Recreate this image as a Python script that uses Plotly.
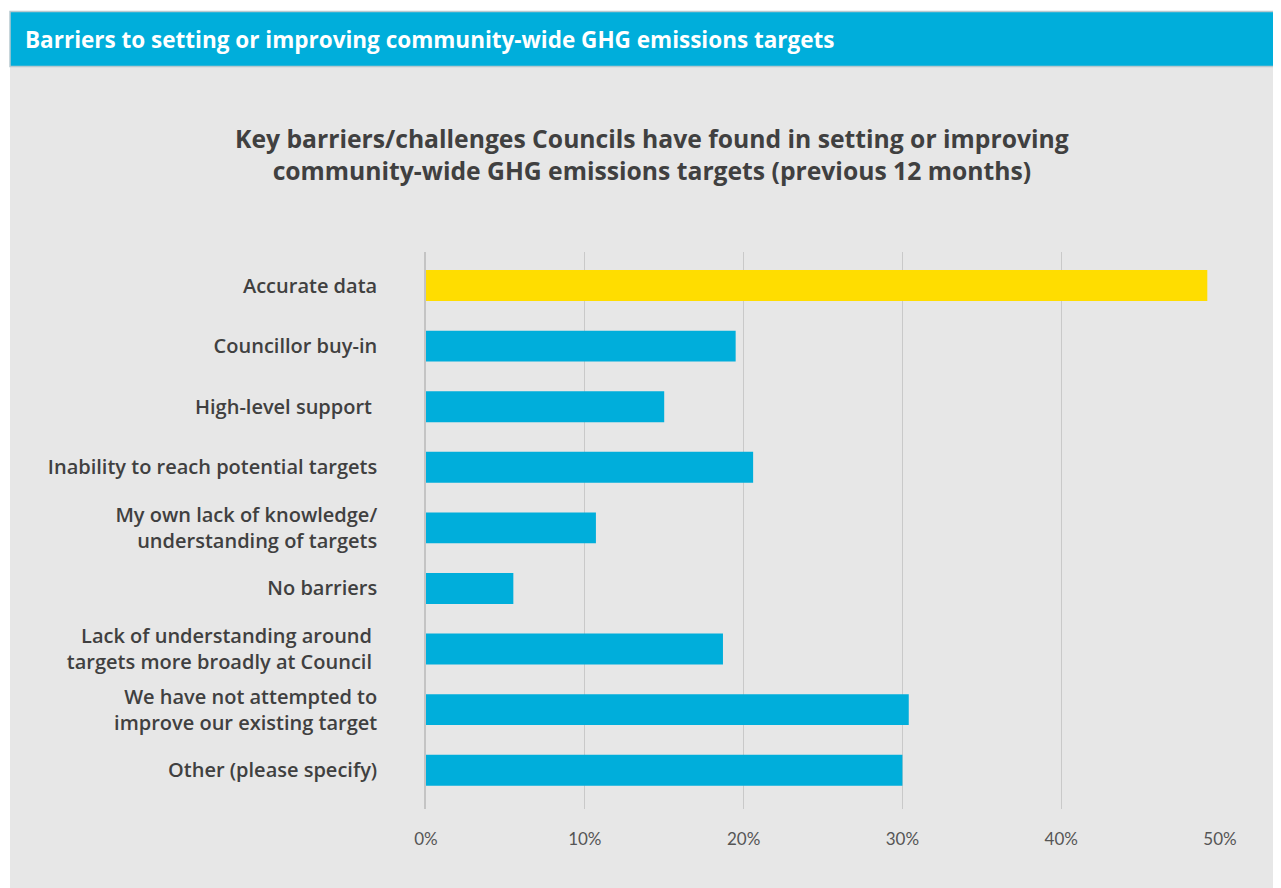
import plotly.graph_objects as go

categories = [
    "Accurate data",
    "Councillor buy-in",
    "High-level support ",
    "Inability to reach potential targets",
    "My own lack of knowledge/<br>understanding of targets",
    "No barriers",
    "Lack of understanding around <br>targets more broadly at Council ",
    "We have not attempted to<br>improve our existing target",
    "Other (please specify)",
]
values = [0.492, 0.195, 0.150, 0.206, 0.107, 0.055, 0.187, 0.304, 0.300]
colors = ["#FFDD00"] + ["#00AEDB"] * 8
tick_vals = [0, 0.1, 0.2, 0.3, 0.4, 0.5]
tick_text = ["0%", "10%", "20%", "30%", "40%", "50%"]

header_text = "Barriers to setting or improving community-wide GHG emissions targets"
chart_title = ("Key barriers/challenges Councils have found in setting or improving<br>"
               "community-wide GHG emissions targets (previous 12 months)")

O = 8  # page body margin offset
W, H = 1281, 888
# plot area in page pixels: x 426..1220, y 252..809
L = 426 - O
T = 252 - O
PW = 1220 - 426
PH = 809 - 252
R = W - L - PW
B = H - T - PH


def px(x):
    return (x - O - L) / PW


def py(y):
    return (T + PH - (y - O)) / PH


fig = go.Figure(go.Bar(
    y=categories,
    x=values,
    orientation="h",
    marker=dict(color=colors, line=dict(width=0)),
    width=0.51,
    hoverinfo="skip",
))

fig.update_layout(
    width=W,
    height=H,
    margin=dict(l=L, r=R, t=T, b=B, pad=0),
    paper_bgcolor="#E7E7E7",
    plot_bgcolor="#E7E7E7",
    showlegend=False,
    font=dict(family="Open Sans", color="#404040"),
    xaxis=dict(
        range=[0, 0.5],
        tickvals=tick_vals,
        ticktext=tick_text,
        showgrid=True,
        gridcolor="#C9C9C9",
        gridwidth=1.3,
        zeroline=False,
        showline=False,
        ticks="",
        tickfont=dict(family="Lato", size=17, color="#555555", weight=400),
        ticklabelstandoff=18,
        fixedrange=True,
    ),
    yaxis=dict(
        categoryorder="array",
        categoryarray=categories,
        range=[8.64, -0.553],
        showgrid=False,
        zeroline=False,
        showline=True,
        linecolor="#C4C4C4",
        linewidth=1.6,
        ticks="",
        tickfont=dict(family="Open Sans", size=20, color="#404040", weight=600),
        ticklabelstandoff=43,
        fixedrange=True,
    ),
    shapes=[
        dict(type="rect", xref="paper", yref="paper",
             x0=px(-20), x1=px(W + 20), y0=py(-20), y1=py(11), fillcolor="white",
             line=dict(width=0), layer="above"),
        dict(type="rect", xref="paper", yref="paper",
             x0=px(-20), x1=px(10), y0=py(-20), y1=py(H + 20), fillcolor="white",
             line=dict(width=0), layer="above"),
        dict(type="rect", xref="paper", yref="paper",
             x0=px(10), x1=px(W + 20), y0=py(11.5), y1=py(66.5), fillcolor="#00AEDB",
             line=dict(width=1.5, color="#B7C9CF"), layer="above"),
    ],
    annotations=[
        dict(text=header_text, xref="paper", yref="paper",
             x=px(23), y=py(40), xanchor="left", yanchor="middle",
             showarrow=False,
             font=dict(family="Open Sans", size=22.5, color="white", weight=700)),
        dict(text=chart_title, xref="paper", yref="paper",
             x=px(652), y=py(154), xanchor="center", yanchor="middle",
             showarrow=False, align="center",
             font=dict(family="Open Sans", size=24.7, color="#404040", weight=700)),
    ],
)

fig.write_html("out.html")
